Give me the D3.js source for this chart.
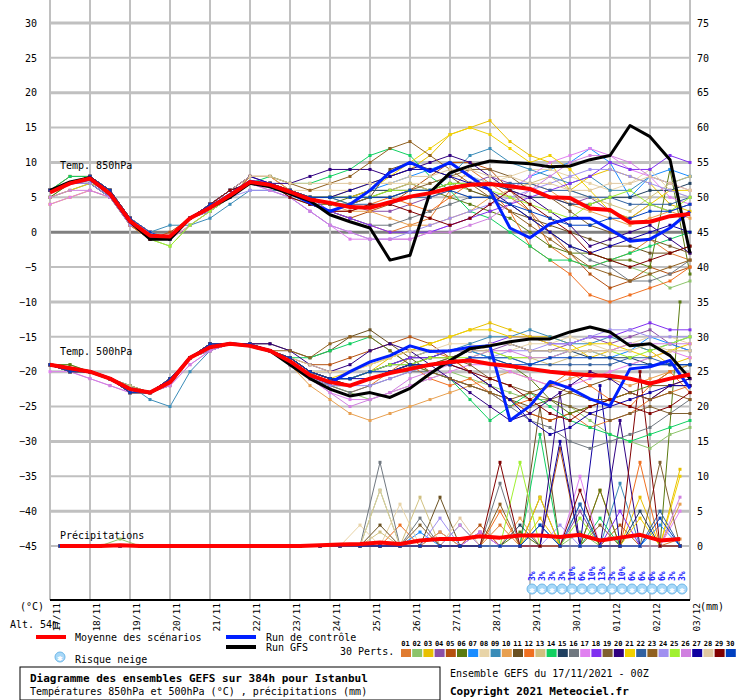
<!DOCTYPE html>
<html><head><meta charset="utf-8">
<script src="https://cdn.jsdelivr.net/npm/d3@7"></script>
<style>body{margin:0;background:#fff}svg{font-family:"DejaVu Sans Mono",monospace}</style>
</head><body>
<svg id="c" width="740" height="700"></svg>
<script>
// 12-hourly values, 17/11 00Z -> 03/12 00Z
const dates = ['17/11','18/11','19/11','20/11','21/11','22/11','23/11','24/11','25/11','26/11','27/11','28/11','29/11','30/11','01/12','02/12','03/12'];
const colors = ['#e07b30','#8dc46a','#e8c000','#8b4fa8','#b5500e','#5a7a10','#1a8cff','#e8d4a8','#3a8cb8','#e8a050',
  '#6a5020','#f07020','#d0c080','#10d060','#204060','#707880','#e080f0','#8030f0','#806030','#300080',
  '#f0d000','#3060a0','#906020','#a090f0','#a0f030','#d080e0','#1000a0','#e0c8a0','#800000','#0040c0'];

const mean850 = [5.7,7,7.7,5.5,1.6,-0.5,-0.6,2,3.5,5.3,7.2,6.8,5.8,4.7,4.2,3.6,3.5,4.3,5.1,5.6,6.3,6.8,6.9,6.6,6.2,5,4.9,3.4,3.2,1.4,1.5,2.3,2.6];
const gfs850 = [6,7.2,7.8,5.5,1.5,-1,-1,2,3.5,5,7,6.5,5.5,4.5,2.5,1.5,0.6,-4,-3.3,5.7,8.5,9.5,10.2,10,9.8,9.4,9.5,10.4,11,15.3,13.7,10.4,-3];
const ctl850 = [5.8,7,7.6,5.4,1.5,-0.8,-0.7,2,3.6,5.4,7.3,6.9,5.6,4.2,3,4,6,8.6,10,8.7,10,8,6,0.6,-0.8,1.2,2,2,0.4,-1.3,-1,0.6,3];
const mean500 = [-19,-19.5,-20,-21,-22.5,-23,-21.5,-18,-16.5,-16,-16.3,-17,-18.5,-20.5,-21.5,-22,-21,-20.2,-19.6,-19,-18.6,-18.4,-18.9,-19.2,-19.6,-20,-20.3,-20.5,-20.6,-21,-21.7,-21,-20.4];
const gfs500 = [-19,-19.5,-20,-21,-22.5,-23,-21.5,-18,-16.5,-16,-16.3,-17,-19,-21,-22.5,-23.5,-23,-23.7,-22.4,-20.3,-18.4,-16.7,-16.3,-15.7,-15.3,-15.3,-14.3,-13.6,-14.3,-16.3,-16,-17.7,-21];
const ctl500 = [-19,-19.6,-20,-21,-22.6,-23,-21.4,-18,-16.4,-16,-16.2,-17,-18.6,-20.6,-21.6,-20,-18.6,-17.7,-16.3,-17.1,-17,-16.5,-16.3,-27,-24.9,-21.4,-22.4,-23.9,-24.9,-19.6,-19.3,-18.4,-22.4];
// precipitation, 12-hourly from 17/11 06Z
const meanPrec = [0,0,0,0.1,0,0,0,0,0,0,0,0,0,0.1,0.2,0.3,0.5,0.3,0.8,1,1,1.4,1.2,1.5,1.5,1.3,1.6,0.8,1.2,1.6,0.8,1,1.5];

const pert850 = [
'6 7 8 6 2 0 -1 2 4 5 7 7 6 4 3 2 1 0 1 2 6 9 7 5 3 -2 -4 -5 -4 -3 -1 -3 -4',
'5 7 7 5 1 -1 -2 1 3 5 7 7 6 5 5 4 5 5 6 6 7 6 5 4 2 0 -2 -3 -4 -5 -6 -8 -7',
'4 5 6 5 2 0 -1 1 3 5 8 7 6 5 5 6 7 8 9 11 14 15 16 13 11 10 6 8 9 8 7 4 3',
'6 7 8 6 2 -1 -1 2 4 6 7 7 6 5 4 4 3 3 4 5 6 7 8 7 6 5 4 5 3 2 4 3 4',
'6 8 8 5 1 -1 0 2 3 5 8 8 6 4 3 2 3 4 6 8 10 10 9 6 3 0 -3 -6 -8 -7 -5 -6 -5',
'5 7 7 5 2 0 -1 2 4 5 7 7 5 4 4 5 5 6 7 6 5 4 3 2 0 -2 -3 -3 -4 -4 -5 9 -6',
'6 7 8 6 2 -1 -1 2 4 6 7 7 6 5 5 5 6 7 8 9 10 8 7 6 8 9 10 12 10 5 8 9 8',
'6 7 7 5 2 0 -1 2 4 5 7 7 6 6 6 6 7 7 7 7 8 8 7 8 9 9 8 7 6 7 9 6 5',
'5 6 7 5 2 0 1 1 2 4 6 6 6 5 4 4 5 5 6 6 8 11 12 10 9 8 7 8 6 6 8 7 8',
'6 7 8 6 1 -1 -1 2 4 6 8 8 6 5 4 3 3 2 1 1 2 3 5 6 7 6 4 3 2 1 2 3 2',
'6 7 8 6 2 -1 -1 2 4 6 7 7 6 5 4 4 5 9 10 9 8 6 5 3 2 1 0 -1 -2 -2 -3 -3 -2',
'6 7 8 5 1 -1 -1 2 4 5 7 7 6 4 3 3 4 5 4 3 5 7 6 3 -2 -4 -6 -9 -10 -9 -8 -7 -5',
'6 7 8 6 2 0 -1 2 4 5 7 7 6 5 5 5 6 6 7 6 6 5 5 6 7 8 6 5 4 3 5 7 8',
'6 8 8 6 2 -1 -1 2 4 6 7 8 7 7 8 9 11 12 11 8 6 3 2 0 -2 -4 -4 -5 -4 -3 -2 -1 0',
'6 7 7 5 2 0 -1 2 3 5 7 7 6 5 5 5 6 6 6 6 7 7 7 6 5 5 4 4 5 5 6 6 7',
'6 7 8 6 2 0 -1 2 4 5 7 7 6 4 3 2 1 1 2 3 4 5 5 4 2 0 -2 -4 -5 -7 -7 -6 -4',
'4 5 6 5 2 0 -1 1 3 5 7 6 5 3 1 -1 -1 -1 -1 0 1 2 4 6 8 10 11 12 11 9 8 5 4',
'6 7 8 6 2 0 -1 2 4 6 8 7 6 5 3 2 1 0 0 0 1 2 3 4 5 6 7 8 10 9 9 11 10',
'6 7 8 6 2 -1 -1 2 4 6 7 7 6 5 4 4 5 5 6 7 8 9 9 8 6 5 3 1 0 -1 -1 -2 -3',
'6 7 8 6 2 0 -1 2 4 6 7 7 7 8 9 9 9 8 9 10 11 10 8 6 5 3 1 -2 -1 0 1 -1 -3',
'5 6 7 6 2 0 -1 2 4 5 7 7 6 5 5 5 6 8 10 12 14 15 14 12 10 11 9 6 3 2 4 6 6',
'6 7 8 6 2 -1 -1 2 4 6 7 7 6 5 5 4 4 4 5 5 6 7 7 7 7 6 6 5 5 4 4 4 5',
'6 7 8 6 2 -1 -1 2 4 6 8 8 7 6 7 8 10 12 13 11 9 7 5 3 1 -1 -3 -5 -6 -7 -6 -5 -4',
'6 7 7 5 1 0 -1 2 3 5 6 6 5 3 1 0 -1 -1 0 1 2 3 4 5 6 7 8 9 9 8 7 6 5',
'6 7 8 6 2 -1 -2 1 3 5 7 7 6 5 5 5 5 6 6 6 7 7 6 5 4 3 2 4 5 6 4 3 5',
'5 6 6 5 2 0 -1 2 4 5 7 6 5 3 1 0 -1 -1 -1 0 0 1 2 4 6 8 10 11 11 10 8 7 6',
'6 7 8 6 2 -1 -1 2 4 6 8 7 6 5 5 6 7 8 9 9 8 7 6 4 2 0 -2 -3 -2 -1 0 1 0',
'6 7 8 6 2 0 -1 2 4 6 8 8 7 7 7 7 7 7 8 8 9 9 8 8 7 7 6 6 7 7 8 7 6',
'6 7 8 6 2 -1 -1 2 4 6 7 7 5 4 3 3 4 4 3 2 1 2 4 6 4 2 0 -3 -4 -5 -4 -3 -2',
'6 7 8 6 2 0 -1 2 4 5 7 7 6 5 5 5 5 5 6 6 6 5 5 4 3 2 1 1 2 2 3 3 4'];

const pert500 = [
'-19 -20 -20 -21 -23 -23 -21 -18 -16 -16 -16 -17 -19 -21 -22 -23 -22 -20 -18 -17 -18 -20 -22 -24 -26 -27 -26 -28 -27 -26 -24 -23 -22',
'-19 -19 -20 -21 -22 -23 -22 -18 -17 -16 -16 -17 -18 -20 -22 -23 -24 -23 -22 -21 -20 -21 -22 -23 -24 -24 -25 -27 -29 -30 -31 -29 -28',
'-19 -20 -20 -21 -23 -23 -21 -18 -16 -16 -16 -17 -18 -20 -21 -21 -20 -18 -17 -16 -15 -14 -13 -14 -15 -15 -16 -18 -17 -16 -17 -19 -18',
'-19 -20 -20 -21 -22 -23 -21 -18 -16 -16 -16 -17 -19 -21 -22 -22 -21 -20 -19 -19 -18 -17 -17 -16 -17 -17 -16 -15 -16 -15 -14 -16 -17',
'-19 -20 -20 -21 -23 -23 -22 -18 -17 -16 -16 -17 -18 -19 -19 -18 -17 -16 -15 -16 -18 -20 -22 -24 -26 -27 -26 -25 -24 -23 -24 -22 -21',
'-19 -19 -20 -21 -22 -23 -21 -18 -16 -16 -16 -17 -19 -21 -22 -22 -21 -20 -20 -19 -18 -17 -18 -19 -21 -24 -26 -25 -24 -23 -22 -20 -19',
'-19 -20 -20 -21 -23 -23 -21 -18 -16 -16 -16 -17 -18 -20 -21 -21 -20 -19 -18 -17 -17 -17 -18 -18 -19 -18 -17 -17 -18 -17 -15 -16 -17',
'-19 -20 -20 -21 -23 -23 -21 -18 -16 -16 -16 -17 -18 -20 -20 -20 -19 -18 -17 -17 -16 -16 -17 -17 -16 -16 -15 -16 -17 -16 -15 -15 -16',
'-19 -20 -20 -21 -22 -24 -25 -20 -17 -16 -16 -17 -18 -20 -21 -22 -21 -20 -19 -18 -17 -16 -15 -15 -14 -15 -16 -16 -15 -16 -17 -16 -15',
'-19 -20 -20 -21 -23 -23 -21 -18 -17 -16 -16 -17 -19 -22 -24 -26 -27 -26 -25 -24 -23 -22 -21 -20 -21 -22 -21 -20 -21 -22 -21 -20 -19',
'-19 -20 -20 -21 -23 -23 -21 -18 -16 -16 -16 -16 -17 -18 -17 -15 -14 -16 -18 -20 -21 -22 -23 -24 -25 -24 -23 -22 -21 -21 -22 -22 -22',
'-19 -20 -20 -21 -23 -23 -21 -18 -16 -16 -16 -17 -18 -20 -21 -22 -21 -20 -19 -21 -22 -21 -23 -25 -24 -22 -20 -22 -24 -25 -22 -20 -23',
'-19 -20 -20 -21 -22 -23 -21 -18 -16 -16 -16 -17 -18 -20 -21 -21 -20 -19 -18 -17 -17 -17 -17 -18 -18 -19 -18 -17 -18 -19 -18 -17 -17',
'-19 -20 -20 -21 -23 -23 -21 -18 -16 -16 -16 -17 -18 -18 -17 -16 -15 -17 -19 -20 -21 -24 -27 -25 -23 -25 -27 -28 -29 -30 -29 -28 -27',
'-19 -20 -20 -21 -23 -23 -21 -18 -16 -16 -16 -17 -18 -20 -21 -21 -20 -19 -18 -18 -17 -17 -16 -16 -17 -17 -17 -18 -18 -18 -19 -19 -19',
'-19 -20 -20 -21 -23 -23 -21 -18 -17 -16 -16 -17 -18 -20 -22 -23 -22 -21 -20 -20 -21 -22 -23 -25 -27 -28 -30 -31 -30 -29 -28 -26 -24',
'-20 -20 -21 -22 -23 -23 -22 -19 -17 -16 -16 -17 -19 -21 -23 -24 -24 -23 -22 -21 -20 -19 -19 -20 -21 -22 -22 -21 -20 -19 -18 -17 -18',
'-19 -20 -20 -21 -23 -23 -21 -18 -16 -16 -16 -17 -18 -20 -21 -21 -20 -19 -18 -18 -17 -17 -16 -15 -15 -16 -16 -15 -15 -14 -13 -14 -14',
'-19 -20 -20 -21 -23 -23 -21 -18 -16 -16 -16 -17 -18 -20 -21 -22 -21 -20 -19 -18 -18 -19 -21 -22 -23 -24 -25 -26 -27 -26 -25 -26 -26',
'-19 -20 -20 -21 -23 -23 -21 -18 -16 -16 -16 -16 -17 -19 -20 -19 -17 -16 -17 -19 -21 -23 -25 -27 -26 -24 -22 -20 -21 -23 -24 -22 -21',
'-19 -20 -20 -21 -23 -23 -21 -18 -16 -16 -16 -17 -18 -20 -21 -20 -19 -18 -17 -16 -15 -14 -14 -15 -15 -16 -17 -16 -16 -17 -18 -17 -16',
'-19 -20 -20 -21 -23 -23 -21 -18 -16 -16 -16 -17 -18 -20 -21 -21 -20 -19 -19 -19 -19 -18 -18 -18 -19 -19 -19 -19 -19 -18 -18 -19 -19',
'-19 -20 -20 -21 -23 -23 -21 -18 -16 -16 -16 -17 -17 -18 -16 -15 -15 -17 -19 -20 -21 -22 -23 -24 -23 -22 -23 -24 -24 -23 -24 -23 -24',
'-19 -20 -20 -21 -23 -23 -21 -18 -17 -16 -16 -17 -19 -21 -22 -22 -22 -21 -20 -19 -19 -18 -18 -17 -17 -16 -16 -15 -14 -14 -15 -15 -15',
'-19 -20 -20 -21 -23 -23 -21 -18 -16 -16 -16 -17 -18 -20 -21 -21 -20 -19 -19 -18 -18 -18 -17 -18 -18 -18 -17 -17 -17 -18 -17 -16 -15',
'-19 -20 -21 -22 -23 -23 -22 -19 -17 -16 -16 -17 -19 -21 -23 -25 -24 -23 -21 -20 -19 -18 -17 -17 -18 -18 -17 -17 -17 -16 -16 -16 -16',
'-19 -20 -20 -21 -23 -23 -21 -18 -16 -16 -16 -17 -18 -20 -21 -21 -21 -20 -19 -19 -19 -20 -22 -24 -27 -29 -28 -26 -25 -24 -23 -22 -22',
'-19 -20 -20 -21 -23 -23 -21 -18 -16 -16 -16 -17 -18 -19 -20 -20 -19 -18 -17 -17 -17 -17 -16 -16 -17 -17 -17 -17 -17 -17 -16 -17 -17',
'-19 -20 -20 -21 -23 -23 -21 -18 -16 -16 -16 -17 -18 -20 -21 -22 -21 -20 -19 -19 -19 -20 -21 -22 -24 -26 -27 -25 -24 -25 -26 -25 -23',
'-19 -20 -20 -21 -23 -23 -21 -18 -16 -16 -16 -17 -18 -20 -21 -21 -20 -20 -19 -19 -19 -18 -18 -19 -19 -18 -18 -18 -18 -19 -19 -19 -19'];

// precipitation (mm) per perturbation: [12h step index, value], other steps are 0
const pertPrecip = [
[[22,3],[27,8],[31,1]], [[3,1],[16,8],[26,2]], [[24,4],[29,7],[31,11]], [[19,2],[26,5]], [[21,3],[25,14],[28,3]],
[[23,2],[27,8],[32,35]], [[18,2],[26,6],[30,3]], [[15,3],[17,6],[21,2]], [[24,3],[28,9]], [[19,2],[23,4],[31,6]],
[[16,3],[19,7],[24,20]], [[17,3],[22,5],[29,12]], [[16,2],[18,7]], [[20,3],[24,16],[27,4]], [[23,3],[29,5]],
[[16,12],[18,4],[22,9]], [[20,3],[26,10],[31,5]], [[21,2],[28,5]], [[18,3],[24,7],[30,12]], [[25,22],[28,18]],
[[24,7],[29,4],[31,10]], [[26,6],[30,5]], [[22,6],[27,3]], [[19,4],[25,3]], [[23,12],[26,4]],
[[21,2],[31,7]], [[25,15],[27,23]], [[16,8],[20,4]], [[22,12],[26,8],[29,25]], [[24,3],[30,4]]];

// snow risk from 29/11 00Z, 6-hourly (%)
const snowRisk = [3,3,3,3,10,6,10,13,3,10,6,6,6,6,3,3];

const svg = d3.select('#c');
const x = d3.scaleLinear().domain([0, 384]).range([50, 690]);
const y = d3.scaleLinear().domain([-45, 30]).range([546, 23]);
const yr = d3.scaleLinear().domain([0, 75]).range([546, 23]);
const parse = s => s.split(' ').map(Number);

// grid
const grid = svg.append('g');
d3.range(-45, 31, 5).forEach(v => {
  grid.append('line').attr('x1', 50).attr('x2', 690).attr('y1', y(v)).attr('y2', y(v))
    .attr('stroke', v === 0 ? '#808080' : '#c0c0c0').attr('stroke-width', v % 10 === 0 ? 3 : 2);
});
dates.forEach((d, i) => {
  grid.append('line').attr('x1', x(i * 24)).attr('x2', x(i * 24)).attr('y1', 0).attr('y2', 600)
    .attr('stroke', '#c0c0c0').attr('stroke-width', 2);
});
svg.append('line').attr('x1', 50).attr('x2', 690).attr('y1', 600).attr('y2', 600).attr('stroke', '#000').attr('stroke-width', 2);

// axes labels
svg.append('g').attr('transform', 'translate(37,0)')
  .call(d3.axisLeft(y).tickValues(d3.range(-45, 31, 5)).tickSize(0).tickPadding(0))
  .call(g => g.select('.domain').remove())
  .selectAll('text').attr('font-size', 10).attr('font-family', 'DejaVu Sans Mono');
svg.append('g').attr('transform', 'translate(697,0)')
  .call(d3.axisRight(yr).tickValues(d3.range(0, 76, 5)).tickSize(0).tickPadding(0))
  .call(g => g.select('.domain').remove())
  .selectAll('text').attr('font-size', 10).attr('font-family', 'DejaVu Sans Mono');

const txt = (t, xx, yy, o = {}) => svg.append('text').attr('x', xx).attr('y', yy).text(t)
  .attr('font-size', o.size || 10).attr('font-weight', o.bold ? 'bold' : null)
  .attr('fill', o.fill || '#000').attr('text-anchor', o.anchor || 'start');

dates.forEach((d, i) => {
  svg.append('text').attr('transform', `translate(${x(i * 24) + 10},603) rotate(-90)`)
    .attr('text-anchor', 'end').attr('font-size', 9.5).text(d);
});
txt('(°C)', 20, 610);
txt('(mm)', 700, 610);
txt('Alt. 54m', 10, 628);
txt('Temp. 850hPa', 60, 169);
txt('Temp. 500hPa', 60, 355);
txt('Précipitations', 60, 539);

// series
const line = (sc, h0) => d3.line().x((d, i) => x(h0 + i * 12)).y(d => sc(d));
const plot = (data, sc, color, w, dots, h0 = 0) => {
  svg.append('path').datum(data).attr('d', line(sc, h0)).attr('fill', 'none')
    .attr('stroke', color).attr('stroke-width', w).attr('stroke-linejoin', 'round');
  if (dots) svg.append('g').selectAll('rect').data(data).join('rect')
    .attr('x', (d, i) => x(h0 + i * 12) - 1.5).attr('y', d => sc(d) - 1.5).attr('width', 3).attr('height', 3).attr('fill', color);
};
colors.forEach((c, k) => {
  const pr = new Array(32).fill(0);
  pertPrecip[k].forEach(([i, v]) => pr[Math.min(i, 31)] = v);
  plot(pr, v => yr(v), c, 1, true, 6);
});
colors.forEach((c, k) => plot(parse(pert850[k]), y, c, 1, true));
colors.forEach((c, k) => plot(parse(pert500[k]), y, c, 1, true));

plot(ctl850, y, '#0020ff', 3);
plot(ctl500, y, '#0020ff', 3);
plot(gfs850, y, '#000', 3);
plot(gfs500, y, '#000', 3);
plot(mean850, y, '#ff0000', 4);
plot(mean500, y, '#ff0000', 4);
plot(meanPrec.slice(0, 32), v => yr(v), '#ff0000', 4, false, 6);

// snow risk
const flake = (g, cx, cy) => {
  g.append('circle').attr('cx', cx).attr('cy', cy).attr('r', 5).attr('fill', '#a8d8f8').attr('stroke', '#70b8e8');
  g.append('text').attr('x', cx).attr('y', cy + 3.5).attr('text-anchor', 'middle').attr('font-size', 9).attr('fill', '#fff').text('✱');
};
const sg = svg.append('g');
snowRisk.forEach((p, i) => {
  const cx = x(12 * 24 + i * 6) + 2;
  flake(sg, cx, 589);
  sg.append('text').attr('transform', `translate(${cx + 3},581) rotate(-90)`).attr('font-size', 8)
    .attr('fill', '#2020ff').attr('font-weight', 'bold').text(p + '%');
});

// legend
svg.append('line').attr('x1', 36).attr('x2', 66).attr('y1', 637).attr('y2', 637).attr('stroke', '#ff0000').attr('stroke-width', 4);
txt('Moyenne des scénarios', 75, 641);
svg.append('line').attr('x1', 226).attr('x2', 256).attr('y1', 637).attr('y2', 637).attr('stroke', '#0020ff').attr('stroke-width', 4);
txt('Run de contrôle', 266, 641);
svg.append('line').attr('x1', 226).attr('x2', 256).attr('y1', 647).attr('y2', 647).attr('stroke', '#000').attr('stroke-width', 4);
txt('Run GFS', 266, 651);
flake(svg, 60, 657);
txt('Risque neige', 75, 663);
txt('30 Perts.', 340, 655);
colors.forEach((c, k) => {
  const px = 401 + k * 11.2;
  txt(String(k + 1).padStart(2, '0'), px + 4.5, 646, {size: 7, bold: true, anchor: 'middle'});
  svg.append('rect').attr('x', px).attr('y', 649).attr('width', 10).attr('height', 8).attr('fill', c);
});

svg.append('rect').attr('x', 20).attr('y', 667).attr('width', 420).attr('height', 33)
  .attr('fill', 'none').attr('stroke', '#000');
txt('Diagramme des ensembles GEFS sur 384h pour Istanbul', 30, 682, {bold: true, size: 11});
txt('Températures 850hPa et 500hPa (°C) , précipitations (mm)', 30, 695, {size: 10});
txt('Ensemble GEFS du 17/11/2021 - 00Z', 450, 677, {size: 10});
txt('Copyright 2021 Meteociel.fr', 450, 695, {bold: true, size: 11});
</script>
</body></html>
